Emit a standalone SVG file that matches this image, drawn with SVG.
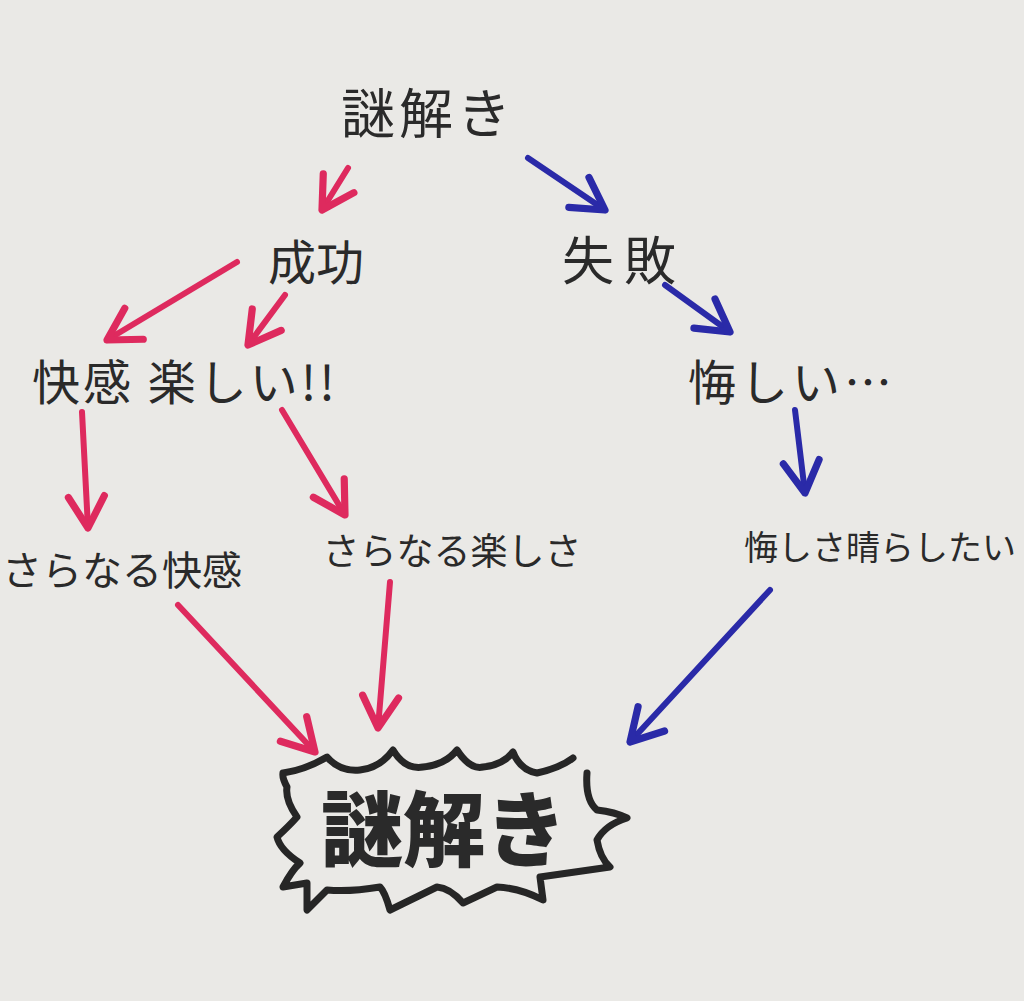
<svg xmlns="http://www.w3.org/2000/svg" width="1024" height="1001" viewBox="0 0 1024 1001">
<defs>
<style>
.t{font-family:"Noto Sans CJK JP","Noto Sans",sans-serif;fill:#2a2a2a;font-weight:400}
.r{stroke:#de2a5e;stroke-width:6;fill:none;stroke-linecap:round;stroke-linejoin:round}
.b{stroke:#2a2aa8;stroke-width:6;fill:none;stroke-linecap:round;stroke-linejoin:round}
</style>
<marker id="mr" viewBox="0 0 20 20" refX="16" refY="10" markerWidth="7.5" markerHeight="7.5" markerUnits="strokeWidth" orient="auto">
<polyline points="2,2 16,10 2,18" fill="none" stroke="#de2a5e" stroke-width="3.2" stroke-linecap="round" stroke-linejoin="round"/>
</marker>
<marker id="mb" viewBox="0 0 20 20" refX="16" refY="10" markerWidth="7.5" markerHeight="7.5" markerUnits="strokeWidth" orient="auto">
<polyline points="2,2 16,10 2,18" fill="none" stroke="#2a2aa8" stroke-width="3.2" stroke-linecap="round" stroke-linejoin="round"/>
</marker>
</defs>
<rect x="0" y="0" width="1024" height="1001" fill="#eae9e6"/>
<g id="connectors">
<path class="r" d="M348,168 L322,210" marker-end="url(#mr)"/>
<path class="r" d="M237,262 L107,340" marker-end="url(#mr)"/>
<path class="r" d="M285,295 L248,345" marker-end="url(#mr)"/>
<path class="r" d="M82,412 L88,528" marker-end="url(#mr)"/>
<path class="r" d="M282,410 L345,515" marker-end="url(#mr)"/>
<path class="r" d="M178,605 L315,752" marker-end="url(#mr)"/>
<path class="r" d="M390,582 L378,728" marker-end="url(#mr)"/>
<path class="b" d="M528,158 L605,210" marker-end="url(#mb)"/>
<path class="b" d="M665,285 L730,332" marker-end="url(#mb)"/>
<path class="b" d="M795,410 L805,493" marker-end="url(#mb)"/>
<path class="b" d="M770,590 L630,742" marker-end="url(#mb)"/>
</g>
<g id="node-top">
<text class="t" x="428" y="134" font-size="54" text-anchor="middle" letter-spacing="4">謎解き</text>
</g>
<g id="node-success">
<text class="t" x="316" y="280" font-size="48" text-anchor="middle">成功</text>
</g>
<g id="node-failure">
<text class="t" x="624" y="280" font-size="52" text-anchor="middle" letter-spacing="10">失敗</text>
</g>
<g id="node-fun">
<text class="t" x="185" y="400" font-size="48" text-anchor="middle" letter-spacing="3">快感 楽しい!!</text>
</g>
<g id="node-regret">
<text class="t" x="792" y="400" font-size="48" text-anchor="middle" letter-spacing="4">悔しい…</text>
</g>
<g id="node-more-pleasure">
<text class="t" x="122" y="585" font-size="40" text-anchor="middle">さらなる快感</text>
</g>
<g id="node-more-fun">
<text class="t" x="452" y="565" font-size="37" text-anchor="middle">さらなる楽しさ</text>
</g>
<g id="node-revenge">
<text class="t" x="880" y="560" font-size="34" text-anchor="middle">悔しさ晴らしたい</text>
</g>
<g id="node-final">
<path d="M283,773 Q305,770 327,757 Q340,772 360,770 Q380,768 393,750 Q405,770 423,767 Q445,765 457,750 Q470,770 483,767 Q503,765 513,752 Q520,770 537,773 Q560,768 573,758 M587,773 Q585,800 597,810 Q615,812 627,818 Q605,825 597,840 Q600,858 610,867 Q575,872 540,877 L543,900 Q520,888 497,887 L463,903 Q450,888 437,887 L390,910 Q385,892 380,887 Q350,892 327,890 L307,910 L307,883 L283,887 Q292,870 300,863 Q280,850 277,837 Q290,825 297,817 Q285,800 287,787 Q282,778 283,773" fill="none" stroke="#262626" stroke-width="7" stroke-linejoin="round" stroke-linecap="round"/>
<text class="t" x="444" y="860" font-size="82" text-anchor="middle" style="font-weight:900">謎解き</text>
</g>
</svg>
